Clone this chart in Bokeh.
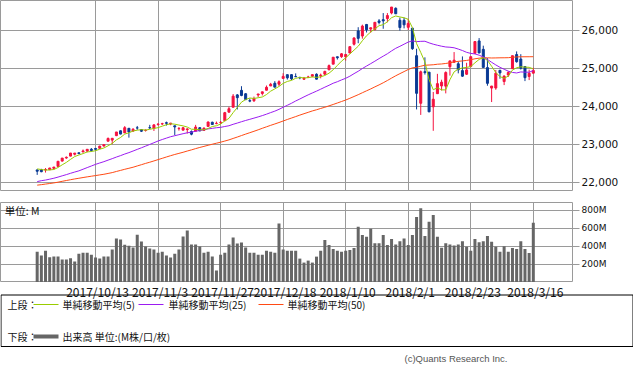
from bokeh.plotting import figure
from bokeh.models import Range1d, FixedTicker, NumeralTickFormatter, Label, ColumnDataSource
from bokeh.layouts import column
from bokeh.embed import file_html
from bokeh.resources import INLINE
from bokeh.core.properties import value

dates = [
    "2017/9/25", "2017/9/26", "2017/9/27", "2017/9/28", "2017/9/29",
    "2017/10/2", "2017/10/3", "2017/10/4", "2017/10/5", "2017/10/6",
    "2017/10/9", "2017/10/10", "2017/10/11", "2017/10/12", "2017/10/13",
    "2017/10/16", "2017/10/17", "2017/10/18", "2017/10/19", "2017/10/20",
    "2017/10/23", "2017/10/24", "2017/10/25", "2017/10/26", "2017/10/27",
    "2017/10/30", "2017/10/31", "2017/11/1", "2017/11/2", "2017/11/3",
    "2017/11/6", "2017/11/7", "2017/11/8", "2017/11/9", "2017/11/10",
    "2017/11/13", "2017/11/14", "2017/11/15", "2017/11/16", "2017/11/17",
    "2017/11/20", "2017/11/21", "2017/11/22", "2017/11/24", "2017/11/27",
    "2017/11/28", "2017/11/29", "2017/11/30", "2017/12/1", "2017/12/4",
    "2017/12/5", "2017/12/6", "2017/12/7", "2017/12/8", "2017/12/11",
    "2017/12/12", "2017/12/13", "2017/12/14", "2017/12/15", "2017/12/18",
    "2017/12/19", "2017/12/20", "2017/12/21", "2017/12/22", "2017/12/26",
    "2017/12/27", "2017/12/28", "2017/12/29", "2018/1/2", "2018/1/3",
    "2018/1/4", "2018/1/5", "2018/1/8", "2018/1/9", "2018/1/10",
    "2018/1/11", "2018/1/12", "2018/1/16", "2018/1/17", "2018/1/18",
    "2018/1/19", "2018/1/22", "2018/1/23", "2018/1/24", "2018/1/25",
    "2018/1/26", "2018/1/29", "2018/1/30", "2018/1/31", "2018/2/1",
    "2018/2/2", "2018/2/5", "2018/2/6", "2018/2/7", "2018/2/8",
    "2018/2/9", "2018/2/12", "2018/2/13", "2018/2/14", "2018/2/15",
    "2018/2/16", "2018/2/20", "2018/2/21", "2018/2/22", "2018/2/23",
    "2018/2/26", "2018/2/27", "2018/2/28", "2018/3/1", "2018/3/2",
    "2018/3/5", "2018/3/6", "2018/3/7", "2018/3/8", "2018/3/9",
    "2018/3/12", "2018/3/13", "2018/3/14", "2018/3/15", "2018/3/16",
]

opens = [
    22330, 22336, 22328, 22337, 22372, 22423, 22563, 22645, 22694, 22743,
    22782, 22805, 22826, 22874, 22895, 22899, 22959, 23086, 23115, 23233,
    23360, 23305, 23426, 23352, 23437, 23394, 23370, 23442, 23420, 23527,
    23540, 23574, 23536, 23492, 23416, 23377, 23392, 23340, 23350, 23441,
    23370, 23476, 23584, 23551, 23576, 23625, 23851, 23980, 24305, 24424,
    24335, 24154, 24150, 24302, 24342, 24428, 24540, 24611, 24587, 24739,
    24837, 24838, 24788, 24764, 24716, 24771, 24797, 24849, 24809, 24850,
    24964, 25114, 25308, 25312, 25307, 25407, 25638, 25987, 25854, 26158,
    26037, 26025, 26252, 26284, 26313, 26460, 26584, 26269, 26268, 26083,
    26061, 25337, 24085, 24916, 24903, 23992, 24337, 24540, 24535, 25046,
    25165, 25124, 24944, 24849, 25054, 25400, 25725, 25504, 25024, 24484,
    24486, 24951, 24656, 24828, 24994, 25367, 25248, 25050, 24790, 24877,
]
highs = [
    22345, 22360, 22380, 22384, 22410, 22557, 22642, 22685, 22777, 22774,
    22784, 22868, 22873, 22905, 22905, 22966, 23002, 23185, 23163, 23328,
    23368, 23485, 23426, 23430, 23487, 23394, 23396, 23517, 23522, 23557,
    23571, 23602, 23565, 23492, 23460, 23458, 23426, 23369, 23516, 23460,
    23449, 23605, 23601, 23603, 23618, 23858, 23994, 24327, 24327, 24534,
    24349, 24211, 24260, 24330, 24387, 24552, 24621, 24667, 24688, 24876,
    24837, 24850, 24871, 24784, 24777, 24808, 24839, 24871, 24864, 24941,
    25105, 25299, 25311, 25404, 25374, 25575, 25818, 26086, 26153, 26172,
    26072, 26215, 26300, 26458, 26458, 26617, 26608, 26338, 26338, 26306,
    26061, 25520, 24946, 25293, 24903, 24382, 24859, 24705, 24925, 25203,
    25432, 25183, 25317, 25150, 25310, 25709, 25800, 25600, 25270, 24538,
    24961, 24965, 24816, 24927, 25335, 25449, 25376, 25055, 24968, 25020,
]
lows = [
    22200, 22270, 22261, 22327, 22342, 22414, 22552, 22623, 22687, 22711,
    22745, 22794, 22797, 22812, 22840, 22890, 22944, 23086, 23007, 23220,
    23268, 23305, 23180, 23336, 23386, 23328, 23340, 23413, 23356, 23493,
    23513, 23498, 23507, 23246, 23365, 23377, 23288, 23242, 23350, 23350,
    23363, 23476, 23515, 23532, 23541, 23625, 23843, 23980, 23922, 24270,
    24168, 24113, 24120, 24248, 24290, 24421, 24540, 24508, 24537, 24739,
    24708, 24694, 24780, 24717, 24715, 24758, 24770, 24713, 24741, 24825,
    24963, 25114, 25235, 25279, 25207, 25407, 25604, 25666, 25785, 25947,
    25942, 25996, 26160, 26045, 26217, 26425, 26435, 25997, 26056, 26014,
    25490, 23923, 23778, 24839, 23849, 23360, 24337, 24421, 24345, 24813,
    25149, 24872, 24780, 24829, 25031, 25390, 25396, 25029, 24546, 24117,
    24440, 24730, 24563, 24777, 24994, 25153, 24972, 24668, 24695, 24871,
]
closes = [
    22296, 22284, 22341, 22381, 22405, 22558, 22642, 22662, 22775, 22774,
    22761, 22831, 22873, 22841, 22872, 22957, 22997, 23158, 23163, 23329,
    23274, 23442, 23329, 23401, 23434, 23349, 23377, 23435, 23516, 23539,
    23548, 23557, 23563, 23462, 23422, 23440, 23409, 23271, 23458, 23358,
    23430, 23591, 23526, 23558, 23581, 23837, 23941, 24272, 24232, 24290,
    24181, 24141, 24211, 24329, 24386, 24505, 24585, 24509, 24652, 24792,
    24755, 24727, 24782, 24754, 24746, 24774, 24838, 24719, 24824, 24923,
    25075, 25296, 25283, 25386, 25369, 25575, 25803, 25793, 26116, 26018,
    26072, 26215, 26211, 26252, 26393, 26617, 26439, 26077, 26149, 26187,
    25521, 24346, 24913, 24893, 23860, 24191, 24601, 24640, 24893, 25200,
    25219, 24965, 24798, 24962, 25310, 25709, 25410, 25029, 24609, 24538,
    24875, 24884, 24801, 24895, 25336, 25179, 25007, 24758, 24874, 24947,
]
volumes = [
    341, 297, 352, 278, 286, 286, 253, 253, 267, 231,
    319, 330, 330, 308, 275, 264, 286, 286, 364, 485,
    474, 416, 405, 386, 529, 452, 397, 375, 364, 330,
    341, 297, 275, 319, 364, 507, 574, 419, 419, 397,
    330, 341, 286, 132, 308, 330, 419, 496, 430, 441,
    386, 330, 330, 308, 308, 352, 341, 330, 651, 364,
    352, 352, 352, 264, 220, 242, 220, 286, 352, 470,
    415, 370, 350, 340, 350, 360, 380, 615, 525, 505,
    595, 435, 435, 525, 415, 480, 420, 455, 485, 415,
    525, 725, 820, 515, 670, 745, 505, 385, 435, 420,
    410, 420, 455, 395, 350, 480, 445, 455, 515, 450,
    395, 340, 400, 340, 380, 370, 455, 370, 325, 660,
]
ma5 = [
    22358, 22340, 22326, 22330, 22342, 22394, 22465, 22529, 22608, 22682,
    22723, 22761, 22803, 22816, 22836, 22875, 22908, 22965, 23029, 23121,
    23184, 23273, 23307, 23355, 23376, 23391, 23378, 23399, 23422, 23443,
    23483, 23519, 23545, 23534, 23511, 23489, 23459, 23401, 23400, 23387,
    23386, 23422, 23473, 23493, 23537, 23619, 23688, 23838, 23972, 24114,
    24183, 24223, 24211, 24230, 24250, 24314, 24403, 24463, 24527, 24609,
    24659, 24687, 24742, 24762, 24753, 24757, 24779, 24766, 24780, 24816,
    24876, 24967, 25080, 25193, 25282, 25382, 25483, 25585, 25731, 25861,
    25960, 26043, 26126, 26153, 26228, 26337, 26382, 26356, 26335, 26294,
    26075, 25656, 25423, 25172, 24707, 24441, 24492, 24437, 24437, 24705,
    24911, 24984, 25015, 25029, 25051, 25149, 25238, 25284, 25214, 25059,
    24892, 24787, 24742, 24799, 24958, 25019, 25044, 25035, 25031, 24989,
]
ma25 = [
    22023, 22047, 22064, 22087, 22112, 22142, 22175, 22207, 22242, 22275,
    22306, 22349, 22392, 22434, 22477, 22513, 22548, 22588, 22627, 22669,
    22707, 22749, 22786, 22828, 22871, 22913, 22957, 23001, 23046, 23092,
    23131, 23168, 23204, 23231, 23257, 23284, 23308, 23324, 23348, 23368,
    23387, 23410, 23425, 23441, 23451, 23473, 23493, 23531, 23564, 23599,
    23632, 23662, 23694, 23726, 23760, 23798, 23839, 23877, 23925, 23979,
    24032, 24085, 24145, 24197, 24253, 24306, 24356, 24404, 24455, 24508,
    24558, 24612, 24652, 24699, 24742, 24797, 24864, 24927, 24999, 25064,
    25127, 25192, 25260, 25324, 25388, 25462, 25531, 25583, 25639, 25696,
    25726, 25706, 25714, 25717, 25674, 25639, 25611, 25586, 25566, 25559,
    25545, 25511, 25472, 25425, 25397, 25383, 25350, 25303, 25237, 25163,
    25094, 25031, 24980, 24930, 24896, 24882, 24909, 24903, 24902, 24945,
]
ma50 = [
    21930, 21943, 21958, 21973, 21989, 22008, 22031, 22052, 22073, 22093,
    22111, 22130, 22148, 22165, 22182, 22199, 22216, 22238, 22260, 22290,
    22318, 22347, 22374, 22401, 22435, 22468, 22502, 22533, 22567, 22602,
    22636, 22671, 22705, 22737, 22766, 22795, 22828, 22858, 22891, 22922,
    22950, 22979, 23007, 23034, 23060, 23090, 23121, 23159, 23196, 23235,
    23273, 23310, 23347, 23386, 23426, 23465, 23504, 23540, 23578, 23618,
    23658, 23696, 23734, 23773, 23810, 23846, 23883, 23914, 23948, 23980,
    24016, 24053, 24092, 24131, 24170, 24215, 24263, 24310, 24362, 24412,
    24462, 24516, 24568, 24624, 24684, 24747, 24808, 24864, 24918, 24974,
    25016, 25031, 25059, 25086, 25091, 25098, 25112, 25119, 25132, 25150,
    25171, 25188, 25199, 25212, 25231, 25255, 25271, 25282, 25281, 25276,
    25278, 25281, 25282, 25284, 25296, 25304, 25308, 25308, 25309, 25310,
]

tick_labels = ["2017/10/13", "2017/11/3", "2017/11/27", "2017/12/18",
               "2018/1/10", "2018/2/1", "2018/2/23", "2018/3/16"]
price_ticks = [22000, 23000, 24000, 25000, 26000]
volume_ticks = [200, 400, 600, 800]

GRID = "#9a9a9a"
RED = "#f5123f"
BLUE = "#0a3a94"
C5 = "#99cc00"
C25 = "#9b1cf0"
C50 = "#ff4a14"
VOL = "#666666"
NUMFONT = "DejaVu Sans"
JPFONT = "Noto Sans CJK JP"

idx = list(range(len(dates)))
tick_idx = [dates.index(t) for t in tick_labels]
colors = [RED if c >= o else BLUE for o, c in zip(opens, closes)]
src = ColumnDataSource(dict(
    x=idx, o=opens, h=highs, l=lows, c=closes,
    top=[max(o, c) for o, c in zip(opens, closes)],
    bot=[min(o, c) for o, c in zip(opens, closes)],
    col=colors, vol=volumes, m5=ma5, m25=ma25, m50=ma50,
))

FRAME_W = 572
XR = (-8.8, 128.4)
PPU = FRAME_W / (XR[1] - XR[0])          # pixels per trading day


def style_common(p):
    p.background_fill_color = "white"
    p.border_fill_color = "white"
    p.outline_line_color = GRID
    p.outline_line_width = 1
    p.xaxis.visible = False
    p.xgrid.ticker = FixedTicker(ticks=tick_idx)
    p.xgrid.grid_line_color = GRID
    p.ygrid.grid_line_color = GRID
    p.yaxis.axis_line_color = None
    p.yaxis.major_tick_line_color = GRID
    p.yaxis.major_tick_out = 7
    p.yaxis.major_tick_in = 0
    p.yaxis.minor_tick_line_color = None
    p.yaxis.major_label_text_color = "#111111"
    p.yaxis.major_label_text_font = NUMFONT
    p.yaxis.major_label_standoff = 2


# ---- price chart ----
p1 = figure(frame_width=FRAME_W, frame_height=190, x_range=Range1d(*XR),
            y_range=Range1d(21789, 26789), y_axis_location="right",
            output_backend="svg", toolbar_location=None,
            min_border_left=0, min_border_right=61, min_border_top=0, min_border_bottom=11)
style_common(p1)
p1.yaxis.ticker = FixedTicker(ticks=price_ticks)
p1.yaxis.formatter = NumeralTickFormatter(format="0,0")
p1.yaxis.major_label_text_font_size = "10.5px"

p1.segment(x0="x", y0="l", x1="x", y1="h", color="col", line_width=1, source=src)
p1.vbar(x="x", top="top", bottom="bot", width=0.48, fill_color="col", line_color="col",
        line_width=1, source=src)
p1.line("x", "m50", color=C50, line_width=1, source=src)
p1.line("x", "m25", color=C25, line_width=1, source=src)
p1.line("x", "m5", color=C5, line_width=1, source=src)

# ---- volume chart ----
p2 = figure(frame_width=FRAME_W, frame_height=80, x_range=p1.x_range,
            y_range=Range1d(0, 884), y_axis_location="right",
            output_backend="svg", toolbar_location=None,
            min_border_left=0, min_border_right=61, min_border_top=1, min_border_bottom=0)
style_common(p2)
p2.yaxis.ticker = FixedTicker(ticks=volume_ticks)
p2.yaxis.major_label_overrides = {v: f"{v}M" for v in volume_ticks}
p2.yaxis.major_label_text_font_size = "9px"

p2.vbar(x="x", top="vol", bottom=0, width=0.72, fill_color=VOL, line_color=None, source=src)
p2.add_layout(Label(x=-7.8, y=796, text="単位: M", text_font=JPFONT,
                    text_font_size="10.5px", text_baseline="middle", text_align="left",
                    text_color="#111111"))

# ---- bottom panel: date labels + legend box ----
# x uses the same trading-day scale as the charts; y is measured downward (px) from the legend box top
P3_TOP = 282
BOX_TOP = 294
p3 = figure(frame_width=633, frame_height=374 - P3_TOP,
            x_range=Range1d(XR[0], XR[0] + 633 / PPU),
            y_range=Range1d(374 - BOX_TOP, P3_TOP - BOX_TOP),
            output_backend="svg", toolbar_location=None,
            min_border_left=0, min_border_right=0, min_border_top=0, min_border_bottom=0)
p3.axis.visible = False
p3.grid.visible = False
p3.outline_line_color = None
p3.background_fill_color = "white"
p3.border_fill_color = "white"


def px(x):
    return XR[0] + x / PPU


p3.text(x=tick_idx, y=[P3_TOP - BOX_TOP] * len(tick_idx), text=tick_labels,
        text_font=value(JPFONT), text_font_size="12px", text_baseline="top",
        text_align="center", text_color="#111111", x_offset=2)

p3.line(x=[px(0.5), px(632.5), px(632.5), px(0.5), px(0.5)], y=[0.5, 0.5, 52, 52, 0.5],
        line_color="#000000", line_width=1)
legend_items = [
    ("上段：", None, 7, 10, None, 0),
    ("単純移動平均(5)", C5, 62, 10, (33, 58), 1),
    ("単純移動平均(25)", C25, 168, 10, (138, 163), 1),
    ("単純移動平均(50)", C50, 287, 10, (258, 283), 1),
    ("下段：", None, 7, 42, None, 0),
    ("出来高 単位:(M株/口/枚)", VOL, 62, 42, (33, 58), 4),
]
for txt, col, tx, ty, seg, lw in legend_items:
    if seg is not None:
        p3.line(x=[px(seg[0]), px(seg[1])], y=[ty, ty], line_color=col, line_width=lw)
    p3.text(x=[px(tx)], y=[ty], text=[txt], text_font=value(JPFONT), text_font_size="10px",
            text_baseline="middle", text_align="left", text_color="#111111")
p3.text(x=[px(507)], y=[64], text=["(c)Quants Research Inc."], text_font=value("Liberation Sans"),
        text_font_size="9.5px", text_baseline="middle", text_align="right", text_color="#555555")

layout = column(p1, p2, p3, spacing=0)

open("out.html", "w").write(file_html(layout, INLINE))
